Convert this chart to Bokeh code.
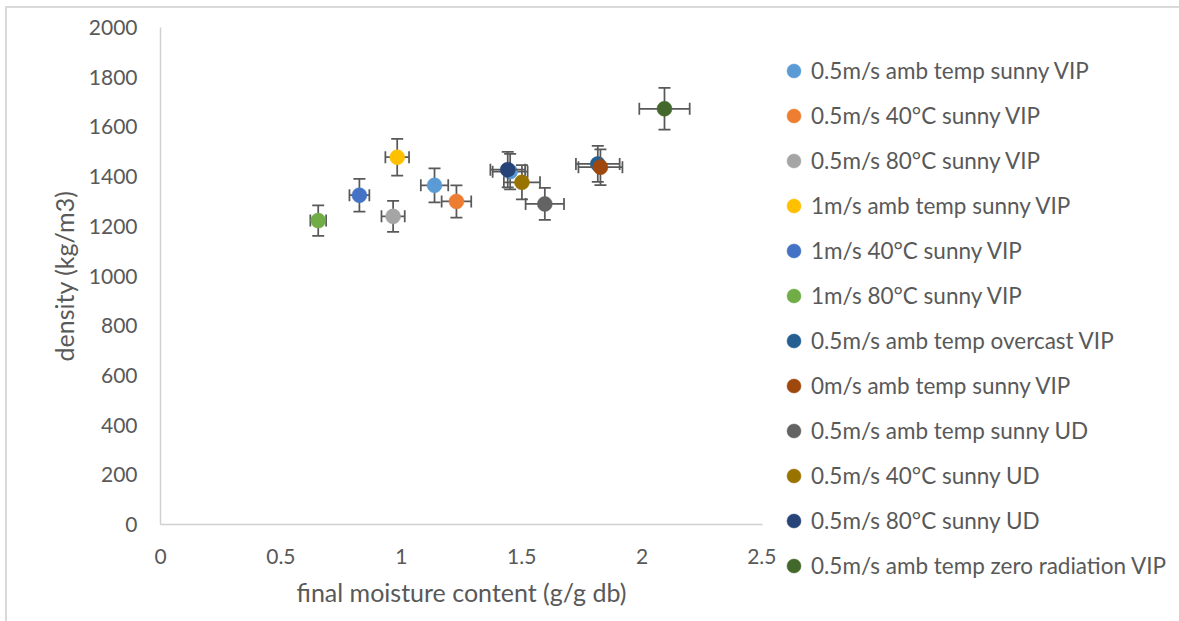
import math

from bokeh.plotting import figure
from bokeh.layouts import row
from bokeh.models import Range1d, FixedTicker, Legend, LegendItem
from bokeh.embed import file_html
from bokeh.resources import INLINE

# --- data -----------------------------------------------------------------
series_labels = [
    "0.5m/s amb temp sunny VIP",
    "0.5m/s 40°C sunny VIP",
    "0.5m/s 80°C sunny VIP",
    "1m/s amb temp sunny VIP",
    "1m/s 40°C sunny VIP",
    "1m/s 80°C sunny VIP",
    "0.5m/s amb temp overcast VIP",
    "0m/s amb temp sunny VIP",
    "0.5m/s amb temp sunny UD",
    "0.5m/s 40°C sunny UD",
    "0.5m/s 80°C sunny UD",
    "0.5m/s amb temp zero radiation VIP",
]
series_colors = [
    "#5B9BD5", "#ED7D31", "#A5A5A5", "#FFC000", "#4472C4", "#70AD47",
    "#255E91", "#9E480E", "#636363", "#997300", "#264478", "#43682B",
]
# final moisture content (g/g db), one list per series
moisture = [
    [1.138, 1.452], [1.229], [0.966], [0.983], [0.826], [0.655],
    [1.816], [1.827], [1.596], [1.501], [1.442], [2.093],
]
# density (kg/m3), one list per series
density = [
    [1365, 1420], [1300], [1240], [1478], [1325], [1223],
    [1451], [1438], [1290], [1377], [1428], [1673],
]
error_fraction = 0.05  # 5 % error bars on both axes

x_ticks = [0, 0.5, 1, 1.5, 2, 2.5]
y_ticks = [0, 200, 400, 600, 800, 1000, 1200, 1400, 1600, 1800, 2000]

FONT = "Lato"
TEXT = "#595959"
AXIS_LINE = "#d0d0d0"
ERR_COLOR = "#595959"
ERR_WIDTH = 1.75

# --- chart ----------------------------------------------------------------
p = figure(
    width=769, height=613,
    x_range=Range1d(0, 2.5), y_range=Range1d(0, 2000),
    output_backend="svg", toolbar_location=None,
    min_border_left=153, min_border_right=14,
    min_border_top=19, min_border_bottom=97,
)
p.frame_align = False
p.outline_line_color = None
p.grid.visible = False
p.background_fill_color = "white"
p.border_fill_color = "white"

p.xaxis.ticker = FixedTicker(ticks=x_ticks)
p.yaxis.ticker = FixedTicker(ticks=y_ticks)
p.xaxis.major_label_overrides = {t: f"{t:g}" for t in x_ticks}

for ax in (p.xaxis, p.yaxis):
    ax.axis_line_color = AXIS_LINE
    ax.axis_line_width = 1.5
    ax.major_tick_line_color = None
    ax.minor_tick_line_color = None
    ax.major_label_text_font = FONT
    ax.major_label_text_font_size = "21px"
    ax.major_label_text_color = TEXT
    ax.axis_label_text_font = FONT
    ax.axis_label_text_font_size = "25px"
    ax.axis_label_text_font_style = "normal"
    ax.axis_label_text_color = TEXT

p.xaxis.axis_label = "final moisture content (g/g db)"
p.yaxis.axis_label = "density (kg/m3)"
p.xaxis.major_label_standoff = 18
p.xaxis.axis_label_standoff = 10
p.yaxis.major_label_standoff = 17
p.yaxis.axis_label_standoff = 7

# --- series: error bars then markers ----------------------------------------
for color, xs, ys in zip(series_colors, moisture, density):
    lo_x = [x * (1 - error_fraction) for x in xs]
    hi_x = [x * (1 + error_fraction) for x in xs]
    lo_y = [y * (1 - error_fraction) for y in ys]
    hi_y = [y * (1 + error_fraction) for y in ys]

    p.segment(x0=lo_x, y0=ys, x1=hi_x, y1=ys, line_color=ERR_COLOR, line_width=ERR_WIDTH)
    p.segment(x0=xs, y0=lo_y, x1=xs, y1=hi_y, line_color=ERR_COLOR, line_width=ERR_WIDTH)
    # end caps
    p.scatter(x=xs + xs, y=lo_y + hi_y, marker="dash", size=12,
              line_color=ERR_COLOR, line_width=ERR_WIDTH)
    p.scatter(x=lo_x + hi_x, y=ys + ys, marker="dash", angle=math.pi / 2, size=12,
              line_color=ERR_COLOR, line_width=ERR_WIDTH)

    p.scatter(x=xs, y=ys, marker="circle", size=15,
              fill_color=color, line_color=color, line_width=0.5)

# --- legend panel -----------------------------------------------------------
# The legend lives in its own plot; its swatch renderers carry the same series
# data but the plot's ranges keep those points out of view.
q = figure(
    width=403, height=613,
    x_range=Range1d(-2, -1), y_range=Range1d(-2, -1),
    x_axis_type=None, y_axis_type=None,
    output_backend="svg", toolbar_location=None,
    min_border=0,
)
q.frame_align = False
q.outline_line_color = None
q.grid.visible = False
q.border_fill_color = "white"
q.background_fill_color = "white"

legend_items = []
for label, color, xs, ys in zip(series_labels, series_colors, moisture, density):
    swatch = q.scatter(x=xs, y=ys, marker="circle", fill_color=color,
                       line_color=color, line_width=0.5)
    legend_items.append(LegendItem(label=label, renderers=[swatch]))

legend = Legend(
    items=legend_items,
    location=(0, 38),
    orientation="vertical",
    glyph_width=35, glyph_height=35,
    label_height=20, spacing=10,
    label_standoff=0, padding=0, margin=0,
    border_line_color=None, background_fill_alpha=0,
    label_text_font=FONT, label_text_font_size="22.5px",
    label_text_color=TEXT,
)
q.add_layout(legend)

layout = row(
    p, q,
    styles={
        "margin-top": "6px", "margin-left": "5px",
        "border-top": "2px solid #d9d9d9", "border-left": "2px solid #d9d9d9",
    },
)

open("out.html", "w").write(file_html(layout, INLINE))
